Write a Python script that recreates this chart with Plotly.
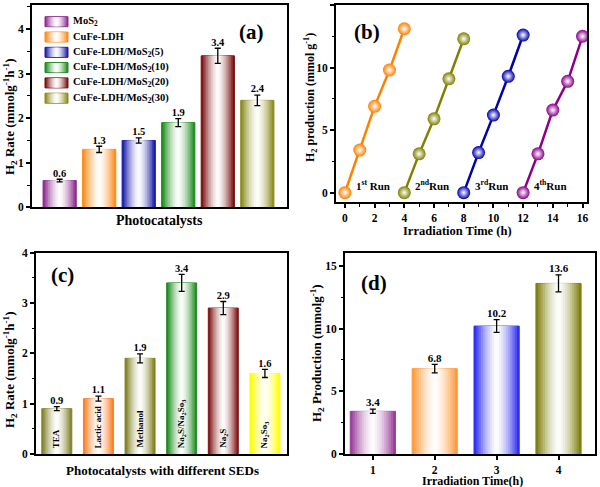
import plotly.graph_objects as go

# ---------------- data ----------------
a_names = ["MoS<sub>2</sub>", "CuFe-LDH", "CuFe-LDH/MoS<sub>2</sub>(5)", "CuFe-LDH/MoS<sub>2</sub>(10)",
           "CuFe-LDH/MoS<sub>2</sub>(20)", "CuFe-LDH/MoS<sub>2</sub>(30)"]
a_vals = [0.6, 1.3, 1.5, 1.9, 3.4, 2.4]
a_errs = [0.03, 0.07, 0.06, 0.09, 0.17, 0.12]
a_colors = ["#8E2C8E", "#FF8C1A", "#1C1CA8", "#1E8C1E", "#7A1010", "#8C8C1E"]

b_runs = ["1<sup>st</sup> Run", "2<sup>nd</sup>Run", "3<sup>rd</sup>Run", "4<sup>th</sup>Run"]
b_x = [[0, 1, 2, 3, 4], [4, 5, 6, 7, 8], [8, 9, 10, 11, 12], [12, 13, 14, 15, 16]]
b_y = [[0, 3.4, 6.9, 9.8, 13.1], [0, 3.1, 5.9, 9.1, 12.3], [0, 3.2, 6.2, 9.3, 12.6], [0, 3.1, 6.6, 8.9, 12.5]]
b_colors = ["#FF8000", "#808000", "#0000B0", "#8B008B"]

c_labels = ["TEA", "Lactic acid", "Methanol", "Na<sub>2</sub>S/Na<sub>2</sub>So<sub>3</sub>", "Na<sub>2</sub>S",
            "Na<sub>2</sub>So<sub>3</sub>"]
c_vals = [0.9, 1.1, 1.9, 3.4, 2.9, 1.6]
c_errs = [0.04, 0.05, 0.09, 0.17, 0.13, 0.08]
c_colors = ["#80802A", "#FF7F27", "#808020", "#1E8C1E", "#801515", "#FFFF00"]

d_x = [1, 2, 3, 4]
d_vals = [3.4, 6.8, 10.2, 13.6]
d_errs = [0.17, 0.34, 0.51, 0.68]
d_colors = ["#9B3F9B", "#FF9A3C", "#3030F0", "#808010"]

FONT = "Liberation Serif"
K = 10


def mix(hexc, f):
    """f=1 -> base colour, f=0 -> white"""
    h = hexc.lstrip("#")
    r, g, b = int(h[0:2], 16), int(h[2:4], 16), int(h[4:6], 16)
    r = round(255 + (r - 255) * f)
    g = round(255 + (g - 255) * f)
    b = round(255 + (b - 255) * f)
    return f"rgb({r},{g},{b})"


fig = go.Figure()


def gradient_bars(xs, vals, colors, width, xa, ya):
    for i, (x, v, c) in enumerate(zip(xs, vals, colors)):
        fig.add_trace(go.Bar(
            x=[x], y=[v], width=width, marker=dict(color=c, line=dict(color=c, width=1)),
            showlegend=False, xaxis=xa, yaxis=ya, hoverinfo="skip"))
    for k in range(1, K):
        f = 1 - k / K
        fig.add_trace(go.Bar(
            x=xs, y=vals, width=width * f,
            marker=dict(color=[mix(c, f ** 1.6) for c in colors], line=dict(width=0)),
            showlegend=False, xaxis=xa, yaxis=ya, hoverinfo="skip"))


def err_and_labels(xs, vals, errs, xa, ya, size=10.5):
    fig.add_trace(go.Scatter(
        x=xs, y=vals, mode="markers", marker=dict(size=1, color="rgba(0,0,0,0)"),
        error_y=dict(type="data", array=errs, color="black", thickness=1.3, width=3),
        showlegend=False, xaxis=xa, yaxis=ya, hoverinfo="skip"))
    fig.add_trace(go.Scatter(
        x=xs, y=[v + e for v, e in zip(vals, errs)], mode="text",
        text=[f"{v:g}" for v in vals], textposition="top center",
        textfont=dict(family=FONT, size=size, color="black", weight="bold"),
        showlegend=False, xaxis=xa, yaxis=ya, hoverinfo="skip"))


# (a)
a_x = list(range(len(a_vals)))
gradient_bars(a_x, a_vals, a_colors, 0.84, "x", "y")
err_and_labels(a_x, a_vals, a_errs, "x", "y")

# (c)
c_x = list(range(len(c_vals)))
gradient_bars(c_x, c_vals, c_colors, 0.72, "x3", "y3")
err_and_labels(c_x, c_vals, c_errs, "x3", "y3")

# (d)
gradient_bars(d_x, d_vals, d_colors, 0.73, "x4", "y4")
err_and_labels(d_x, d_vals, d_errs, "x4", "y4", size=11)

# (b)
for xs, ys, c in zip(b_x, b_y, b_colors):
    fig.add_trace(go.Scatter(
        x=xs, y=ys, mode="lines+markers", line=dict(color=c, width=2.5),
        marker=dict(size=13, color=c, gradient=dict(type="radial", color="#FFFFFF"),
                    line=dict(width=0)),
        showlegend=False, xaxis="x2", yaxis="y2", hoverinfo="skip"))

# ---------------- layout ----------------
axis_common = dict(showline=True, linecolor="black", linewidth=2, mirror=True, ticks="outside",
                   ticklen=4, tickwidth=1.5, tickcolor="black", showgrid=False, zeroline=False,
                   automargin=False,
                   tickfont=dict(family=FONT, size=11.5, color="black", weight="bold"))
minor_common = dict(ticks="outside", ticklen=2.5, tickwidth=1.2, tickcolor="black", showgrid=False)

fig.update_layout(
    width=600, height=487, margin=dict(l=0, r=0, t=0, b=0),
    paper_bgcolor="white", plot_bgcolor="white", barmode="overlay", showlegend=False,
    font=dict(family=FONT, color="black", weight="bold"),
    xaxis=dict(domain=[0.0533, 0.4783], range=[-0.7, 5.75], showticklabels=False,
               **{**axis_common, "ticks": ""}),
    yaxis=dict(domain=[0.5743, 0.9897], range=[0, 4.54], dtick=1, anchor="x",
               minor=dict(dtick=0.5, **minor_common), **axis_common),
    xaxis2=dict(domain=[0.56, 0.9783], range=[-0.6, 16.3], dtick=2, anchor="y2",
                minor=dict(dtick=1, **minor_common), **axis_common),
    yaxis2=dict(domain=[0.5852, 0.9897], range=[-0.75, 15], dtick=5, anchor="x2",
                minor=dict(dtick=2.5, **minor_common), **axis_common),
    xaxis3=dict(domain=[0.06, 0.4783], range=[-0.5, 5.53], showticklabels=False, anchor="y3",
                **{**axis_common, "ticks": ""}),
    yaxis3=dict(domain=[0.0678, 0.4811], range=[0, 4], dtick=1, anchor="x3",
                minor=dict(dtick=0.5, **minor_common), **axis_common),
    xaxis4=dict(domain=[0.575, 0.9917], range=[0.55, 4.59], dtick=1, anchor="y4", **axis_common),
    yaxis4=dict(domain=[0.0678, 0.4811], range=[0, 16.05], dtick=5, anchor="x4",
                minor=dict(dtick=2.5, **minor_common), **axis_common),
)

ann = []
shapes = []


def txt(x, y, s, size=13, angle=0, xref="paper", yref="paper", xanchor="center", yanchor="middle", **kw):
    ann.append(dict(x=x, y=y, xref=xref, yref=yref, text=s, showarrow=False, textangle=angle,
                    xanchor=xanchor, yanchor=yanchor,
                    font=dict(family=FONT, size=size, color="black", weight="bold"), **kw))


def px(xp, yp):
    return xp / 600, 1 - yp / 487


# legend for (a): gradient swatches + labels
LEG_X0, LEG_X1, LEG_Y0, LEG_STEP, LEG_H = 45, 68, 21.7, 15.3, 10
for i, (name, c) in enumerate(zip(a_names, a_colors)):
    yc = LEG_Y0 + i * LEG_STEP
    shapes.append(dict(type="rect", xref="paper", yref="paper",
                       x0=LEG_X0 / 600, x1=LEG_X1 / 600,
                       y0=1 - (yc + LEG_H / 2) / 487, y1=1 - (yc - LEG_H / 2) / 487,
                       fillcolor=c, line=dict(color=c, width=1)))
    half = (LEG_X1 - LEG_X0) / 2
    mid = (LEG_X0 + LEG_X1) / 2
    for k in range(1, K):
        f = 1 - k / K
        shapes.append(dict(type="rect", xref="paper", yref="paper",
                           x0=(mid - half * f) / 600, x1=(mid + half * f) / 600,
                           y0=1 - (yc + LEG_H / 2 - 0.5) / 487, y1=1 - (yc - LEG_H / 2 + 0.5) / 487,
                           fillcolor=mix(c, f ** 1.6), line=dict(width=0)))
    txt(*px(71, yc), name, 10.5, xanchor="left")

# axis titles
txt(*px(10, 117), "H<sub>2</sub> Rate (mmolg<sup>-1</sup>h<sup>-1</sup>)", 13, -90)
txt(*px(159, 220), "Photocatalysts", 14)
txt(*px(311, 98), "H<sub>2</sub> production (mmol g<sup>-1</sup>)", 12, -90)
txt(*px(457, 230.5), "Irradiation Time (h)", 12.5)
txt(*px(10, 370), "H<sub>2</sub> Rate (mmolg<sup>-1</sup>h<sup>-1</sup>)", 13, -90)
txt(*px(162, 470), "Photocatalysts with different SEDs", 13)
txt(*px(317, 353), "H<sub>2</sub> Production (mmolg<sup>-1</sup>)", 13, -90)
txt(*px(472, 480.5), "Irradiation Time(h)", 12)

# panel labels
txt(*px(251, 32), "(a)", 21)
txt(*px(367, 32), "(b)", 21)
txt(*px(62, 275), "(c)", 21)
txt(*px(374, 283), "(d)", 21)

# run labels (b)
for xs, ys, s in zip(b_x, b_y, b_runs):
    txt(xs[0], ys[0] + 0.6, s, 11, xref="x2", yref="y2", xanchor="left", xshift=9)

# bar labels inside (c)
for x, s in zip(c_x, c_labels):
    txt(x, 0, s, 9, -90, xref="x3", yref="y3", yanchor="bottom", yshift=4)

fig.update_layout(annotations=ann, shapes=shapes)
fig.write_html("out.html", config={"displayModeBar": False},
               post_script="document.body.style.margin='0';document.body.style.overflow='hidden';")
